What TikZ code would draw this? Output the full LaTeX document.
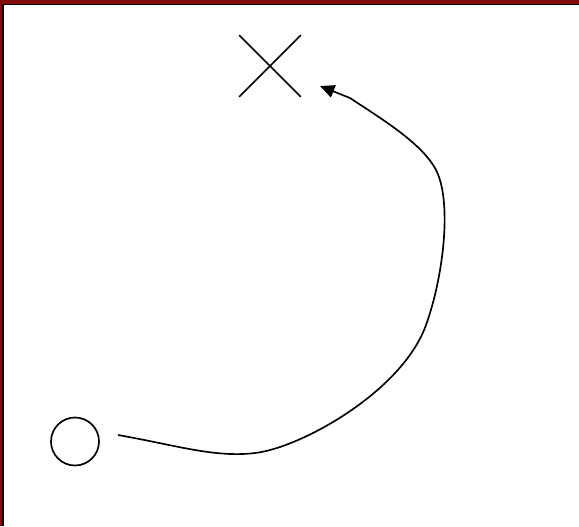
\documentclass[tikz,border=0pt]{standalone}
\usetikzlibrary{arrows.meta,shapes.misc}
\definecolor{framered}{HTML}{820c0c}

\begin{document}
\begin{tikzpicture}[x=0.75pt,y=-0.75pt,line width=1.25pt,
  origin/.style={draw,circle,inner sep=0pt,minimum size=36pt},
  target/.style={draw,cross out,inner sep=0pt,minimum size=45pt},
  every path/.style={line join=round}]
\useasboundingbox (0,0) rectangle (579,526);
% frame on top and left edge
\fill[framered] (0,0) rectangle (579,4);
\fill[framered] (0,0) rectangle (2,526);
\draw[line width=1.3pt] (2.8,526) -- (2.8,4.6) -- (579,4.6);
\node[origin](start) at (75,441.5){};
\node[target](goal) at (270,66){};
\coordinate (tail) at (118,435);
\coordinate (head) at (320,86);
\draw[-{Triangle[length=3.8mm,width=3.4mm]}] (tail)
  .. controls (175,445) and (215,458) .. (255,453)
  .. controls (300,448) and (402,392) .. (426,325)
  .. controls (443,278) and (452,205) .. (437,172)
  .. controls (424,144) and (380,118) .. (350,98) -- (head);
\end{tikzpicture}
\end{document}
